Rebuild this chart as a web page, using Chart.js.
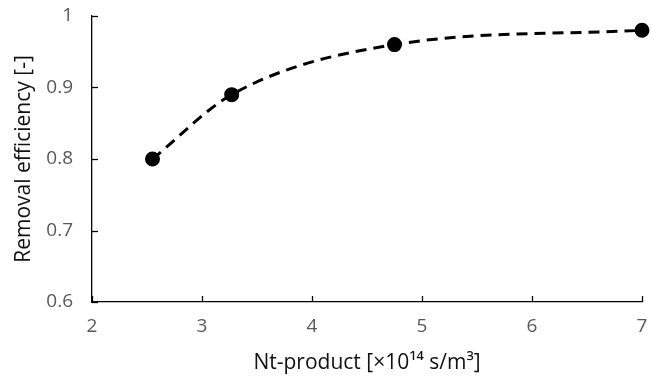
<!DOCTYPE html>
<html>
<head>
<meta charset="utf-8">
<script src="https://cdn.jsdelivr.net/npm/chart.js@4"></script>
<style>
  html, body { margin: 0; padding: 0; background: #fff; }
  #wrap { width: 651px; height: 383px; position: relative; }
</style>
</head>
<body>
<div id="wrap"><canvas id="chart"></canvas></div>
<script>
// data
const ntProduct = [2.55, 3.27, 4.75, 7.0];
const removalEff = [0.80, 0.89, 0.96, 0.98];
const xTicks = [2, 3, 4, 5, 6, 7];
const yTicks = [0.6, 0.7, 0.8, 0.9, 1];

const points = ntProduct.map((x, i) => ({ x: x, y: removalEff[i] }));

// tick marks pointing into the plot (like the excel chart)
const innerTicks = {
  id: 'innerTicks',
  afterDatasetsDraw(chart) {
    const ctx = chart.ctx;
    const xs = chart.scales.x, ys = chart.scales.y;
    ctx.save();
    ctx.strokeStyle = '#000';
    ctx.lineWidth = 1.3;
    xTicks.forEach(v => {
      const px = Math.round(xs.getPixelForValue(v)) + 0.5;
      ctx.beginPath();
      ctx.moveTo(px, ys.bottom);
      ctx.lineTo(px, ys.bottom - 6);
      ctx.stroke();
    });
    yTicks.forEach(v => {
      const py = Math.round(ys.getPixelForValue(v)) + 0.5;
      ctx.beginPath();
      ctx.moveTo(xs.left, py);
      ctx.lineTo(xs.left + 6, py);
      ctx.stroke();
    });
    ctx.restore();
  }
};

const ctx = document.getElementById('chart').getContext('2d');
new Chart(ctx, {
  type: 'scatter',
  data: {
    datasets: [{
      data: points,
      showLine: true,
      cubicInterpolationMode: 'monotone',
      borderColor: '#000',
      borderWidth: 3,
      borderDash: [11, 7],
      pointRadius: 6,
      pointHoverRadius: 6,
      pointBackgroundColor: '#000',
      pointBorderColor: '#000',
      clip: false
    }]
  },
  options: {
    responsive: true,
    maintainAspectRatio: false,
    animation: false,
    layout: { padding: { top: 16, right: 6, left: 0, bottom: 0 } },
    plugins: { legend: { display: false }, tooltip: { enabled: false } },
    scales: {
      x: {
        type: 'linear',
        min: 2, max: 7,
        afterBuildTicks: s => { s.ticks = xTicks.map(v => ({ value: v })); },
        afterFit: s => { s.height = 81; s.paddingLeft = 0; s.paddingRight = 0; },
        grid: { display: false, drawTicks: false },
        border: { display: true, color: '#000', width: 1.3 },
        ticks: { padding: 13, color: '#595959', font: { family: 'Open Sans', size: 19 } },
        title: {
          display: true,
          text: 'Nt-product [×10¹⁴ s/m³]',
          color: '#111',
          font: { family: 'Open Sans', size: 21 },
          padding: { top: 4, bottom: 7 }
        }
      },
      y: {
        type: 'linear',
        min: 0.6, max: 1,
        afterBuildTicks: s => { s.ticks = yTicks.map(v => ({ value: v })); },
        afterFit: s => { s.width = 92; s.paddingTop = 0; s.paddingBottom = 0; },
        grid: { display: false, drawTicks: false },
        border: { display: true, color: '#000', width: 1.3 },
        ticks: {
          padding: 19,
          color: '#595959',
          font: { family: 'Open Sans', size: 19 },
          callback: v => String(v)
        },
        title: {
          display: true,
          text: 'Removal efficiency [-]',
          color: '#111',
          font: { family: 'Open Sans', size: 21 },
          padding: { top: 11, bottom: 0 }
        }
      }
    }
  },
  plugins: [innerTicks]
});
</script>
</body>
</html>
